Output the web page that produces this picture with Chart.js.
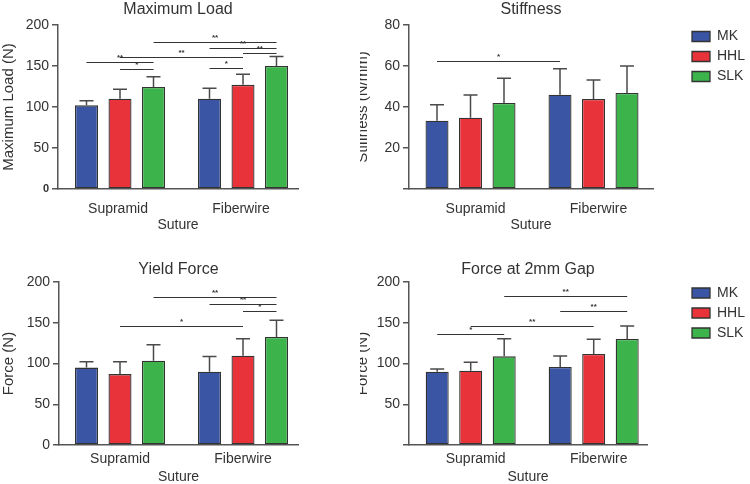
<!DOCTYPE html>
<html>
<head>
<meta charset="utf-8">
<script src="https://cdn.jsdelivr.net/npm/chart.js@4/dist/chart.umd.min.js"></script>
<style>
  html, body { margin: 0; padding: 0; background: #fff; width: 750px; height: 484px; overflow: hidden; position: relative; }
  canvas { position: absolute; display: block; }
</style>
</head>
<body>
<canvas id="c1" width="360" height="242" style="left:0;top:0"></canvas>
<canvas id="c2" width="390" height="242" style="left:360px;top:0"></canvas>
<canvas id="c3" width="360" height="244" style="left:0;top:242px"></canvas>
<canvas id="c4" width="390" height="244" style="left:360px;top:242px"></canvas>
<script>
// ---------- data ----------
const categories = ['Supramid', 'Fiberwire'];
const series = ['MK', 'HHL', 'SLK'];

// Maximum Load (N)
const loadTicks = [0, 50, 100, 150, 200];
const loadMK  = [102, 110];
const loadHHL = [110, 127];
const loadSLK = [124.5, 150];
const loadMKsd  = [5.5, 13];
const loadHHLsd = [11.5, 13];
const loadSLKsd = [12.5, 11.5];
// [fromSeries, fromCategory, toSeries, toCategory, value, label]
const loadSig = [
  [0, 0, 2, 0, 155, '**'],
  [1, 0, 2, 0, 146, '*'],
  [1, 0, 1, 1, 161.5, '**'],
  [2, 0, 2, 1, 179, '**'],
  [0, 1, 2, 1, 172.5, '**'],
  [1, 1, 2, 1, 166, '**'],
  [0, 1, 1, 1, 147.5, '*']
];

// Stiffness (N/mm)
const stiffTicks = [0, 20, 40, 60, 80];
const stiffMK  = [33.3, 46];
const stiffHHL = [34.8, 43.9];
const stiffSLK = [42, 46.8];
const stiffMKsd  = [7.8, 12.7];
const stiffHHLsd = [11.1, 9.3];
const stiffSLKsd = [12, 13.2];
const stiffSig = [
  [0, 0, 0, 1, 62.4, '*']
];

// Yield Force (N)
const yieldTicks = [0, 50, 100, 150, 200];
const yieldMK  = [95, 90];
const yieldHHL = [87, 109.5];
const yieldSLK = [103.5, 132.5];
const yieldMKsd  = [7, 18.5];
const yieldHHLsd = [15, 21];
const yieldSLKsd = [19.5, 20.5];
const yieldSig = [
  [2, 0, 2, 1, 181, '**'],
  [0, 1, 2, 1, 173, '**'],
  [1, 1, 2, 1, 164.5, '*'],
  [1, 0, 1, 1, 146.5, '*']
];

// Force at 2mm Gap (N)
const gapTicks = [0, 50, 100, 150, 200];
const gapMK  = [90, 95.7];
const gapHHL = [91.2, 111.7];
const gapSLK = [108.8, 130];
const gapMKsd  = [3.2, 13.5];
const gapHHLsd = [10.2, 18];
const gapSLKsd = [21.7, 16];
const gapSig = [
  [2, 0, 2, 1, 182.5, '**'],
  [0, 1, 2, 1, 165, '**'],
  [1, 0, 1, 1, 146, '**'],
  [0, 0, 2, 0, 136, '*']
];

// ---------- style ----------
const FONT = "'Liberation Sans', Arial, Helvetica, sans-serif";
const COLORS = ['#3b55a5', '#e8333a', '#3cb44b'];
const AXIS = '#555555';
const TEXT = '#333333';
const UNIT = 123; // px between the two category centres

function build(id, cfg) {
  const datasets = series.map((name, d) => ({
    label: name,
    data: categories.map((c, i) => ({ x: i, y: cfg.means[d][i] })),
    sd: cfg.sds[d],
    backgroundColor: COLORS[d],
    borderColor: '#333333',
    borderWidth: 1.3,
    borderSkipped: false,
    categoryPercentage: 0.817,
    barPercentage: 0.687
  }));

  const errPlugin = {
    id: 'errbars',
    afterDatasetsDraw(chart) {
      const ctx = chart.ctx, ys = chart.scales.y;
      ctx.save();
      ctx.strokeStyle = '#4a4a4a';
      ctx.lineWidth = 1.5;
      chart.data.datasets.forEach((ds, d) => {
        chart.getDatasetMeta(d).data.forEach((bar, i) => {
          const top = ys.getPixelForValue(ds.data[i].y + ds.sd[i]);
          ctx.beginPath();
          ctx.moveTo(bar.x, bar.y);
          ctx.lineTo(bar.x, top);
          ctx.moveTo(bar.x - 7, top);
          ctx.lineTo(bar.x + 7, top);
          ctx.stroke();
        });
      });
      ctx.restore();
    }
  };

  const sigPlugin = {
    id: 'sig',
    afterDatasetsDraw(chart) {
      const ctx = chart.ctx, ys = chart.scales.y;
      ctx.save();
      ctx.strokeStyle = '#333333';
      ctx.fillStyle = '#333333';
      ctx.lineWidth = 1.2;
      ctx.font = 'bold 8px ' + FONT;
      ctx.textAlign = 'center';
      ctx.textBaseline = 'bottom';
      cfg.sig.forEach(([s1, c1, s2, c2, v, lab]) => {
        const x1 = chart.getDatasetMeta(s1).data[c1].x;
        const x2 = chart.getDatasetMeta(s2).data[c2].x;
        const y = Math.round(ys.getPixelForValue(v)) + 0.5;
        ctx.beginPath();
        ctx.moveTo(x1, y);
        ctx.lineTo(x2, y);
        ctx.stroke();
        ctx.fillText(lab, (x1 + x2) / 2, y - 1);
      });
      ctx.restore();
    }
  };

  const legendPlugin = {
    id: 'legendPlace',
    afterLayout(chart) {
      const lg = chart.legend;
      if (!cfg.legend || !lg) return;
      const h = lg.height;
      lg.left = cfg.legend.left;
      lg.top = cfg.legend.top;
      lg.right = lg.left + lg.width;
      lg.bottom = lg.top + Math.max(h, 100);
    }
  };

  const lblShift = (cfg.labelShift || 0) / UNIT;

  return new Chart(document.getElementById(id), {
    type: 'bar',
    data: { datasets },
    options: {
      responsive: false,
      animation: false,
      devicePixelRatio: 1,
      layout: { padding: { left: 0, top: 0, right: cfg.padRight, bottom: 0 } },
      plugins: {
        title: {
          display: true, text: cfg.title, fullSize: false, color: TEXT,
          font: { family: FONT, size: 16, weight: 'normal' },
          padding: { top: cfg.tPadTop, bottom: cfg.tPadBottom }
        },
        legend: cfg.legend ? {
          display: true, position: 'chartArea', align: 'start',
          labels: {
            boxWidth: 18, boxHeight: 10, padding: 6, color: TEXT,
            font: { family: FONT, size: 14 }
          }
        } : { display: false },
        tooltip: { enabled: false }
      },
      scales: {
        x: {
          type: 'linear', offset: false, bounds: 'data',
          min: cfg.xMin, max: cfg.xMax,
          afterBuildTicks: s => { s.ticks = categories.map((c, i) => ({ value: i + lblShift })); },
          afterFit: s => { s.height = cfg.xHeight; },
          grid: { display: false, drawTicks: false },
          border: { display: true, color: AXIS, width: 1.5 },
          ticks: {
            callback: (v, i) => categories[i], color: TEXT,
            font: { family: FONT, size: 14 }, padding: cfg.xTickPad,
            maxRotation: 0, autoSkip: false
          },
          title: {
            display: true, text: 'Suture', color: TEXT,
            font: { family: FONT, size: 14 }, padding: { top: 0, bottom: cfg.xTitlePad }
          }
        },
        y: {
          min: cfg.ticks[0], max: cfg.ticks[cfg.ticks.length - 1],
          afterBuildTicks: s => { s.ticks = cfg.ticks.map(v => ({ value: v })); },
          afterFit: s => { s.width = cfg.yWidth; },
          grid: { display: true, drawOnChartArea: false, drawTicks: true, tickLength: 6, color: AXIS, lineWidth: 1.5 },
          border: { display: true, color: AXIS, width: 1.5 },
          ticks: {
            callback: v => (v === 0 && cfg.hide0) ? '' : String(v),
            color: TEXT,
            font: c => (cfg.bold0 && c.tick && c.tick.value === 0)
              ? { family: FONT, size: 11, weight: 'bold' }
              : { family: FONT, size: 14 },
            padding: 3
          },
          title: {
            display: true, text: cfg.yTitle, color: TEXT,
            font: { family: FONT, size: 15 }, padding: { top: cfg.yTitlePad || 0, bottom: 0 }
          }
        }
      }
    },
    plugins: [errPlugin, sigPlugin, legendPlugin]
  });
}

build('c1', {
  title: 'Maximum Load', yTitle: 'Maximum Load (N)', ticks: loadTicks,
  means: [loadMK, loadHHL, loadSLK], sds: [loadMKsd, loadHHLsd, loadSLKsd], sig: loadSig,
  yWidth: 58, xHeight: 53, padRight: 62, tPadTop: 0.4, tPadBottom: 5.4,
  xTickPad: 12, xTitlePad: 8.6, xMin: (58 - 120) / UNIT, xMax: (298 - 120) / UNIT,
  labelShift: -2, bold0: true
});

build('c2', {
  title: 'Stiffness', yTitle: 'Stiffness (N/mm)', ticks: stiffTicks,
  means: [stiffMK, stiffHHL, stiffSLK], sds: [stiffMKsd, stiffHHLsd, stiffSLKsd], sig: stiffSig,
  yWidth: 49, xHeight: 53, padRight: 97, tPadTop: 0.4, tPadBottom: 5.4,
  xTickPad: 12, xTitlePad: 8.6, xMin: (409 - 470.5) / UNIT, xMax: (653 - 470.5) / UNIT,
  labelShift: 5, hide0: true, yTitlePad: -6,
  legend: { left: 326, top: 23.5 }
});

build('c3', {
  title: 'Yield Force', yTitle: 'Force (N)', ticks: yieldTicks,
  means: [yieldMK, yieldHHL, yieldSLK], sds: [yieldMKsd, yieldHHLsd, yieldSLKsd], sig: yieldSig,
  yWidth: 59, xHeight: 41, padRight: 62, tPadTop: 18, tPadBottom: 2.8,
  xTickPad: 6, xTitlePad: 0.6, xMin: (59 - 120) / UNIT, xMax: (298 - 120) / UNIT,
  labelShift: 0
});

build('c4', {
  title: 'Force at 2mm Gap', yTitle: 'Force (N)', ticks: gapTicks,
  means: [gapMK, gapHHL, gapSLK], sds: [gapMKsd, gapHHLsd, gapSLKsd], sig: gapSig,
  yWidth: 49, xHeight: 41, padRight: 103, tPadTop: 18, tPadBottom: 2.8,
  xTickPad: 6, xTitlePad: 0.9, xMin: (409 - 470.7) / UNIT, xMax: (647 - 470.7) / UNIT,
  labelShift: 5, hide0: true, yTitlePad: -6,
  legend: { left: 326, top: 38 }
});
</script>
</body>
</html>
